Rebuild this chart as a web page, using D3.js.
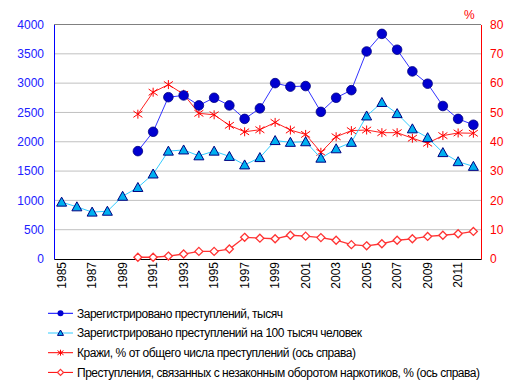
<!DOCTYPE html>
<html><head><meta charset="utf-8">
<script src="https://cdn.jsdelivr.net/npm/d3@7"></script>
<style>body{margin:0;background:#fff;} svg text{font-family:"Liberation Sans",Arial,sans-serif !important;}</style>
</head><body><svg id="c" width="520" height="391"></svg>
<script>
const years = d3.range(1985, 2013);
const yearTicks = [1985,1987,1989,1991,1993,1995,1997,1999,2001,2003,2005,2007,2009,2011];
const leftTicks = [0,500,1000,1500,2000,2500,3000,3500,4000];
const rightTicks = [0,10,20,30,40,50,60,70,80];
const crimesYears = d3.range(1990, 2013);
const crimes = [1840,2170,2760,2790,2620,2750,2620,2390,2570,3000,2940,2950,2510,2750,2880,3540,3840,3570,3200,2990,2610,2390,2290];
const perYears = d3.range(1985, 2013);
const per100k = [970,890,800,815,1070,1220,1450,1840,1860,1760,1840,1750,1605,1730,2020,1990,2000,1720,1880,1990,2440,2670,2480,2220,2070,1815,1660,1580];
const theftYears = d3.range(1990, 2013);
const thefts = [49.4,56.9,59.5,56.2,49.7,49.2,45.6,43.4,44.1,46.6,44.0,42.5,36.4,41.7,43.8,44.0,43.1,43.1,41.2,39.5,42.1,43.0,42.9];
const drugYears = d3.range(1990, 2013);
const drugs = [0.6,0.6,1.0,1.7,2.6,2.6,3.4,7.4,7.1,6.9,8.1,7.8,7.3,6.4,4.9,4.5,5.2,6.4,6.9,7.7,8.1,8.6,9.4];
const legendLabels = [
  "Зарегистрировано преступлений, тысяч",
  "Зарегистрировано преступлений на 100 тысяч человек",
  "Кражи, % от общего числа преступлений (ось справа)",
  "Преступления, связанных с незаконным оборотом наркотиков, % (ось справа)"
];
const legendWidths = [206, 285, 279, 403];

const svg = d3.select("#c");
const L = 54, R = 481, T = 24.5, B = 259;
const x = d3.scaleBand().domain(years).range([L, R]).padding(0);
const cx = d => x(d) + x.bandwidth()/2;
const yl = d3.scaleLinear().domain([0,4000]).range([B, T]);
const yr = d3.scaleLinear().domain([0,80]).range([B, T]);
const FF = '"Liberation Sans", Arial, sans-serif';

// gridlines
svg.append("g").selectAll("line").data(leftTicks.filter(d=>d>0 && d<4000)).join("line")
  .attr("x1", L).attr("x2", R).attr("y1", d=>yl(d)).attr("y2", d=>yl(d))
  .attr("stroke", "#c0c0c0").attr("stroke-width", 1);
svg.append("line").attr("x1", L).attr("x2", R).attr("y1", T).attr("y2", T).attr("stroke", "#808080");

// axes
const gl = svg.append("g").attr("transform", `translate(${L},0)`)
  .call(d3.axisLeft(yl).tickValues(leftTicks).tickFormat(d3.format("d")).tickSize(0).tickPadding(10));
gl.attr("font-family", FF);
gl.select(".domain").attr("stroke", "#0000ff");
gl.selectAll("text").attr("fill", "#2020ff").style("font-size", "12px");

const gr = svg.append("g").attr("transform", `translate(${R},0)`)
  .call(d3.axisRight(yr).tickValues(rightTicks).tickSize(0).tickPadding(9));
gr.attr("font-family", FF);
gr.select(".domain").attr("stroke", "#ff0000");
gr.selectAll("text").attr("fill", "#ff0000").style("font-size", "12px");

const gb = svg.append("g").attr("transform", `translate(0,${B})`)
  .call(d3.axisBottom(x).tickValues(yearTicks).tickFormat(d3.format("d")).tickSize(0).tickSizeOuter(0));
gb.attr("font-family", FF);
gb.select(".domain").attr("stroke", "#000");
gb.selectAll("text").attr("transform", "rotate(-90)").attr("x", -3).attr("y", 0).attr("dy", "0.35em")
  .style("text-anchor", "end").attr("fill", "#000").style("font-size", "12px");

svg.append("text").attr("x", 464).attr("y", 19).attr("fill", "#ff0000").style("font-size", "12px").text("%");

// marker functions
function circle(g, px, py) {
  g.append("circle").attr("cx", px).attr("cy", py).attr("r", 4.8).attr("fill", "#0000d0").attr("stroke", "#000080").attr("stroke-width", 0.8);
}
function tri(g, px, py, s=5) {
  g.append("path").attr("d", `M${px},${py-s}L${px+s},${py+s*0.8}L${px-s},${py+s*0.8}Z`)
    .attr("fill", "#00b0f0").attr("stroke", "#000080").attr("stroke-width", 1);
}
function star(g, px, py, s=4.5) {
  g.append("path").attr("d", `M${px},${py-s}L${px},${py+s}M${px-s},${py-s*0.7}L${px+s},${py+s*0.7}M${px-s},${py+s*0.7}L${px+s},${py-s*0.7}`)
    .attr("stroke", "#ff0000").attr("stroke-width", 1).attr("fill", "none");
}
function diamond(g, px, py, s=4) {
  g.append("path").attr("d", `M${px},${py-s}L${px+s},${py}L${px},${py+s}L${px-s},${py}Z`)
    .attr("fill", "#fff").attr("stroke", "#ff3333").attr("stroke-width", 1.3);
}

function series(xs, vs, yscale, color, width, marker) {
  const g = svg.append("g");
  const pts = xs.map((d,i)=>[cx(d), yscale(vs[i])]);
  g.append("path").attr("d", d3.line()(pts)).attr("fill", "none").attr("stroke", color).attr("stroke-width", width);
  pts.forEach(p => marker(g, p[0], p[1]));
}
series(drugYears, drugs, yr, "#ff3333", 1.3, diamond);
series(theftYears, thefts, yr, "#ff2020", 1, star);
series(perYears, per100k, yl, "#33ccff", 1, tri);
series(crimesYears, crimes, yl, "#3333ff", 1, circle);

// legend
const lg = svg.append("g");
const markers = [
  (g,px,py)=>g.append("circle").attr("cx",px).attr("cy",py).attr("r",3).attr("fill","#0000d0"),
  (g,px,py)=>tri(g,px,py,3),
  (g,px,py)=>star(g,px,py,3),
  (g,px,py)=>diamond(g,px,py,3)
];
const lcolors = ["#0000ff","#33ccff","#ff0000","#ff0000"];
legendLabels.forEach((t,i)=>{
  const yy = 313.3 + i*19.7;
  lg.append("line").attr("x1",48).attr("x2",73).attr("y1",yy).attr("y2",yy).attr("stroke",lcolors[i]).attr("stroke-width",1);
  markers[i](lg, 60.5, yy);
  lg.append("text").attr("x",77).attr("y",yy).attr("dy","0.35em").style("font-size","12px").attr("fill","#000")
    .attr("textLength", legendWidths[i]).attr("lengthAdjust","spacing").text(t);
});
</script></body></html>
